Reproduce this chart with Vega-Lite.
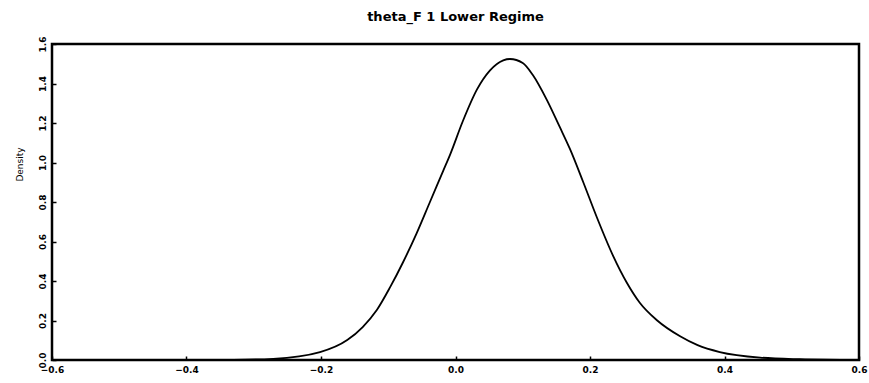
{
  "$schema": "https://vega.github.io/schema/vega-lite/v6.json",
  "width": 807,
  "height": 316,
  "autosize": {"type": "none"},
  "padding": {"left": 52, "top": 44, "right": 10, "bottom": 23},
  "background": "white",
  "title": {
    "text": "theta_F 1 Lower Regime",
    "font": "DejaVu Sans",
    "fontSize": 13,
    "fontWeight": "bold",
    "color": "black",
    "offset": 12
  },
  "config": {
    "view": {"stroke": "black", "strokeWidth": 2.5},
    "axis": {
      "domain": false,
      "grid": false,
      "ticks": true,
      "tickColor": "black",
      "tickWidth": 1.5,
      "tickSize": -4,
      "labelFont": "DejaVu Sans",
      "labelFontSize": 9,
      "labelFontWeight": "bold",
      "labelColor": "black",
      "titleFont": "DejaVu Sans",
      "titleFontSize": 9,
      "titleFontWeight": "normal",
      "titleColor": "black"
    }
  },
  "data": {
    "values": [
      {"x": -0.6, "density": 0.0},
      {"x": -0.5, "density": 0.0},
      {"x": -0.4, "density": 0.0},
      {"x": -0.33, "density": 0.001},
      {"x": -0.271, "density": 0.006},
      {"x": -0.2015, "density": 0.04},
      {"x": -0.161, "density": 0.101},
      {"x": -0.138, "density": 0.167},
      {"x": -0.117, "density": 0.253},
      {"x": -0.097, "density": 0.37},
      {"x": -0.078, "density": 0.495},
      {"x": -0.058, "density": 0.64},
      {"x": -0.038, "density": 0.8},
      {"x": -0.018, "density": 0.96},
      {"x": -0.008, "density": 1.04},
      {"x": 0.011, "density": 1.21},
      {"x": 0.032, "density": 1.37},
      {"x": 0.051, "density": 1.465},
      {"x": 0.071, "density": 1.517},
      {"x": 0.081, "density": 1.524},
      {"x": 0.1, "density": 1.504},
      {"x": 0.115, "density": 1.443},
      {"x": 0.136, "density": 1.316},
      {"x": 0.155, "density": 1.18},
      {"x": 0.17, "density": 1.07},
      {"x": 0.19, "density": 0.9},
      {"x": 0.21, "density": 0.724},
      {"x": 0.234, "density": 0.53},
      {"x": 0.255, "density": 0.39},
      {"x": 0.274, "density": 0.29},
      {"x": 0.3, "density": 0.2},
      {"x": 0.334, "density": 0.12},
      {"x": 0.36, "density": 0.075},
      {"x": 0.393, "density": 0.04},
      {"x": 0.453, "density": 0.012},
      {"x": 0.512, "density": 0.004},
      {"x": 0.6, "density": 0.0}
    ]
  },
  "mark": {"type": "line", "color": "black", "strokeWidth": 1.8, "interpolate": "monotone"},
  "encoding": {
    "x": {
      "field": "x",
      "type": "quantitative",
      "scale": {"domain": [-0.6, 0.6], "nice": false, "zero": false},
      "axis": {
        "title": null,
        "values": [-0.6, -0.4, -0.2, 0, 0.2, 0.4, 0.6],
        "format": ".1f",
        "labelPadding": 9,
        "labelFlush": false
      }
    },
    "y": {
      "field": "density",
      "type": "quantitative",
      "scale": {"domain": [0, 1.6], "nice": false},
      "axis": {
        "title": "Density",
        "titleY": 120,
        "titlePadding": 14,
        "values": [0, 0.2, 0.4, 0.6, 0.8, 1.0, 1.2, 1.4, 1.6],
        "format": ".1f",
        "labelAngle": -90,
        "labelAlign": "center",
        "labelBaseline": "bottom",
        "labelPadding": 9,
        "labelFlush": false
      }
    }
  }
}
